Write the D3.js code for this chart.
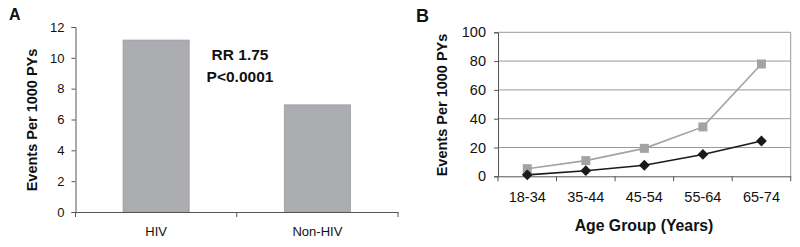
<!DOCTYPE html>
<html>
<head>
<meta charset="utf-8">
<script src="https://cdn.jsdelivr.net/npm/d3@7"></script>
<style>
  body { margin: 0; background: #fff; }
  svg text { font-family: Arial, "Liberation Sans", sans-serif; fill: #111; }
</style>
</head>
<body>
<div id="chart"></div>
<script>
// panel A
const groupsA = ["HIV", "Non-HIV"];
const ratesA = [11.15, 6.95];
const ticksA = [0, 2, 4, 6, 8, 10, 12];

// panel B
const ageGroups = ["18-34", "35-44", "45-54", "55-64", "65-74"];
const hivRates = [5.3, 10.9, 19.4, 34.3, 78.0];
const nonHivRates = [1.0, 3.9, 7.7, 15.2, 24.5];
const ticksB = [0, 20, 40, 60, 80, 100];

const W = 800, H = 247;
const svg = d3.select("#chart").append("svg")
  .attr("width", W).attr("height", H)
  .attr("viewBox", `0 0 ${W} ${H}`);

const axisColor = "#555";

// ---------- Panel A ----------
const xA = d3.scaleBand().domain(groupsA).range([75.5, 398]).paddingInner(0.59).paddingOuter(0.295);
const yA = d3.scaleLinear().domain([0, 12]).range([212, 27]);

const gA = svg.append("g");

gA.selectAll(".bar")
  .data(groupsA.map((g, i) => ({ g, v: ratesA[i] })))
  .join("rect")
  .attr("class", "bar")
  .attr("x", d => xA(d.g))
  .attr("y", d => yA(d.v))
  .attr("width", xA.bandwidth())
  .attr("height", d => yA(0) - yA(d.v))
  .attr("fill", "#acadb0")
  .attr("stroke", "#9a9b9e")
  .attr("stroke-width", 0.8);

const yAxisA = gA.append("g").attr("transform", "translate(75.5,0)")
  .call(d3.axisLeft(yA).tickValues(ticksA).tickSize(4).tickPadding(7));
const xAxisA = gA.append("g").attr("transform", "translate(0,212)")
  .call(d3.axisBottom(xA).tickSize(0).tickPadding(15));
// category boundary ticks
const stepA = (398 - 75.5) / groupsA.length;
gA.selectAll(".bt").data(d3.range(groupsA.length + 1)).join("line")
  .attr("x1", i => 75.5 + i * stepA).attr("x2", i => 75.5 + i * stepA)
  .attr("y1", 212).attr("y2", 217)
  .attr("stroke", axisColor);

[yAxisA, xAxisA].forEach(a => {
  a.select(".domain").attr("stroke", axisColor);
  a.selectAll(".tick line").attr("stroke", axisColor);
  a.selectAll("text").style("font-size", "13px").attr("fill", "#111");
});

gA.append("text").attr("x", 240).attr("y", 60).attr("text-anchor", "middle")
  .style("font-size", "15.5px").style("font-weight", "bold").text("RR 1.75");
gA.append("text").attr("x", 240).attr("y", 82).attr("text-anchor", "middle")
  .style("font-size", "15.5px").style("font-weight", "bold").text("P<0.0001");

gA.append("text").attr("transform", "translate(37,120) rotate(-90)").attr("text-anchor", "middle")
  .style("font-size", "14.5px").style("font-weight", "bold").text("Events Per 1000 PYs");

gA.append("text").attr("x", 9).attr("y", 20)
  .style("font-size", "16px").style("font-weight", "bold").text("A");

// ---------- Panel B ----------
const xB = d3.scaleBand().domain(ageGroups).range([498, 790.7]);
const yB = d3.scaleLinear().domain([0, 100]).range([176.3, 32.3]);
const gB = svg.append("g");

// gridlines
gB.selectAll(".grid").data(ticksB.filter(t => t > 0)).join("line")
  .attr("x1", 498).attr("x2", 790.7)
  .attr("y1", d => yB(d)).attr("y2", d => yB(d))
  .attr("stroke", "#9a9a9a").attr("stroke-width", 1);
gB.append("line").attr("x1", 790.7).attr("x2", 790.7).attr("y1", yB(100)).attr("y2", yB(0))
  .attr("stroke", "#9a9a9a");

const yAxisB = gB.append("g").attr("transform", "translate(498,0)")
  .call(d3.axisLeft(yB).tickValues(ticksB).tickSize(4).tickPadding(8));
const xAxisB = gB.append("g").attr("transform", `translate(0,${yB(0)})`)
  .call(d3.axisBottom(xB).tickSize(0).tickPadding(15.5));
gB.selectAll(".bt").data(d3.range(ageGroups.length + 1)).join("line")
  .attr("x1", i => 498 + i * xB.step()).attr("x2", i => 498 + i * xB.step())
  .attr("y1", yB(0)).attr("y2", yB(0) + 5)
  .attr("stroke", axisColor);

[yAxisB, xAxisB].forEach(a => {
  a.select(".domain").attr("stroke", axisColor);
  a.selectAll(".tick line").attr("stroke", axisColor);
  a.selectAll("text").style("font-size", "14.5px").attr("fill", "#111");
});

const cx = d => xB(d) + xB.bandwidth() / 2;
const line = d3.line().x(d => cx(d.a)).y(d => yB(d.v));

const hivData = ageGroups.map((a, i) => ({ a, v: hivRates[i] }));
const nonData = ageGroups.map((a, i) => ({ a, v: nonHivRates[i] }));

gB.append("path").datum(hivData).attr("d", line)
  .attr("fill", "none").attr("stroke", "#a3a3a3").attr("stroke-width", 1.6);
gB.append("path").datum(nonData).attr("d", line)
  .attr("fill", "none").attr("stroke", "#1a1a1a").attr("stroke-width", 1.6);

gB.selectAll(".sq").data(hivData).join("rect")
  .attr("x", d => cx(d.a) - 4.5).attr("y", d => yB(d.v) - 4.5)
  .attr("width", 9).attr("height", 9)
  .attr("fill", "#a3a3a3");

const diamond = d3.symbol().type(d3.symbolDiamond2).size(75);
gB.selectAll(".dm").data(nonData).join("path")
  .attr("transform", d => `translate(${cx(d.a)},${yB(d.v)})`)
  .attr("d", diamond)
  .attr("fill", "#1a1a1a");

gB.append("text").attr("transform", "translate(447,105) rotate(-90)").attr("text-anchor", "middle")
  .style("font-size", "14.5px").style("font-weight", "bold").text("Events Per 1000 PYs");
gB.append("text").attr("x", 644).attr("y", 231).attr("text-anchor", "middle")
  .style("font-size", "15.8px").style("font-weight", "bold").text("Age Group (Years)");
gB.append("text").attr("x", 416).attr("y", 22)
  .style("font-size", "18px").style("font-weight", "bold").text("B");
</script>
</body>
</html>
